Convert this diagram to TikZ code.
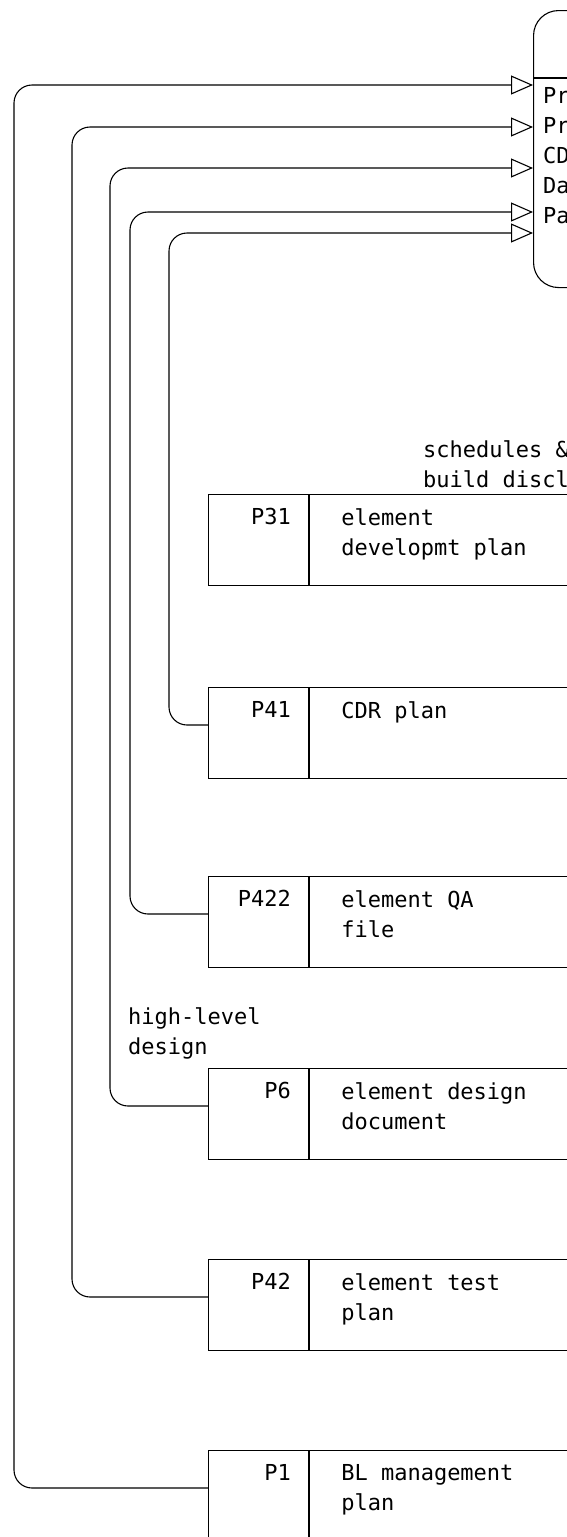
\documentclass[tikz,border=0pt]{standalone}
\usepackage{fontspec}
\setmonofont{DejaVu Sans Mono}
\usetikzlibrary{arrows.meta,positioning}

\tikzset{
  plan/.style={draw, line width=1.1pt, anchor=north west, minimum width=100pt, minimum height=91pt, inner sep=0pt},
  plandesc/.style={draw, line width=1.1pt, minimum width=300pt, minimum height=91pt, inner sep=0pt},
  txt/.style={font=\ttfamily\fontsize{22}{30}\selectfont, inner sep=0pt, align=left},
  flow/.style={line width=1.1pt, rounded corners=18pt, -{Triangle[open, length=22pt, width=19pt]}},
}

\begin{document}
\begin{tikzpicture}[x=1pt, y=-1pt]
    \useasboundingbox (0,0) rectangle (567,1537);
    \clip (0,0) rectangle (567,1537);

    % document that collects the plans
    \node[draw, line width=1.1pt, rounded corners=25pt, anchor=north west, minimum width=200pt, minimum height=277pt] (docs) at (533,10) {};
    \draw[line width=1.1pt] ([yshift=-68pt]docs.north west) -- ++(100,0);
    \node[txt, anchor=north west] (contents) at (543,87) {Pr\\Pr\\CD\\Da\\Pa};
    \coordinate (in1) at (533,85);
    \coordinate (in2) at (533,127);
    \coordinate (in3) at (533,168);
    \coordinate (in4) at (533,212);
    \coordinate (in5) at (533,233);

    % plans
    \foreach \name/\id/\top/\desc in {p31/P31/494/{element\\developmt plan}, p41/P41/687/{CDR plan}, p422/P422/876/{element QA\\file}, p6/P6/1068/{element design\\document}, p42/P42/1259/{element test\\plan}, p1/P1/1450/{BL management\\plan}}
    {
        \node[plan] (\name-id) at (208,\top) {};
        \node[plandesc, right=0pt of \name-id] (\name) {};
        \node[txt, anchor=north east] at ([xshift=-18pt, yshift=-14pt]\name-id.north east) {\id};
        \node[txt, anchor=north west] at ([xshift=32pt, yshift=-14pt]\name-id.north east) {\desc};
    }

    \node[txt, anchor=north west] (schedlabel) at (423,440) {schedules \&\\build discl};
    \node[txt, anchor=north west] (hldlabel) at (128,1007) {high-level\\design};

    % flows into the document
    \foreach \name/\dx/\tip in {p1/194/in1, p42/136/in2, p6/98/in3, p422/78/in4, p41/39/in5}
        \draw[flow] ([yshift=-38pt]\name-id.north west) -- ++(-\dx,0) |- (\tip);
\end{tikzpicture}
\end{document}
